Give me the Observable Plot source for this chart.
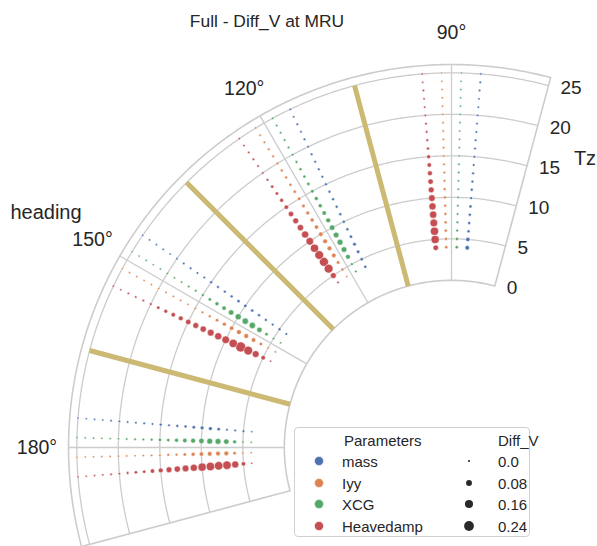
<!DOCTYPE html>
<html><head><meta charset="utf-8">
<script src="https://cdn.jsdelivr.net/npm/d3@7"></script>
<script src="https://cdn.jsdelivr.net/npm/@observablehq/plot@0.6"></script>
<style>
html,body{margin:0;padding:0;background:#fff;}
#wrap{position:relative;width:597px;height:546px;overflow:hidden;font-family:"Liberation Sans",Arial,sans-serif;color:#262626;}
.lbl{position:absolute;white-space:nowrap;transform:translate(-50%,-50%);line-height:1;}
#legend{position:absolute;left:294px;top:427px;width:236px;height:110px;border:1px solid #d0d0d0;border-radius:4px;background:rgba(255,255,255,0.85);box-sizing:border-box;font-size:15px;}
#legend .t{position:absolute;white-space:nowrap;transform:translateY(-50%);line-height:1;}
#legend svg{position:absolute;left:0;top:0;}
</style></head>
<body><div id="wrap"></div>
<script>
// ---------------- data ----------------
const tzValues = [4,5,6,7,8,9,10,11,12,13,14,15,16,17,18,19,20,21,22,23,24,25];
const headings = [90,120,150,180];
const parameters = ["mass","Iyy","XCG","Heavedamp"];
const paramColors = ["#4c72b0","#dd8452","#55a868","#c44e52"];
const regionBounds = [105,135,165];
const rTicks = [0,5,10,15,20,25];
const sizeTicks = [0,0.08,0.16,0.24];
const sizeTickLabels = ["0.0","0.08","0.16","0.24"];

// Diff_V per heading and parameter, for Tz = 4 .. 25
const mass90  = [0.04,0.035,0.012,0.012,0.012,0.012,0.01,0.01,0.008,0.007,0.006,0.005,0.005,0.004,0.004,0.003,0.003,0.003,0.002,0.002,0.002,0.002];
const iyy90   = [0.015,0.015,0.012,0.012,0.01,0.01,0.01,0.008,0.006,0.005,0.004,0.003,0.003,0.002,0.002,0.002,0.001,0.001,0.001,0,0,0];
const xcg90   = [0.015,0.015,0.008,0.005,0.004,0.003,0.003,0.002,0.002,0.002,0.002,0.001,0.001,0.001,0.001,0.001,0,0,0,0,0,0];
const heave90 = [0.065,0.16,0.16,0.14,0.125,0.12,0.105,0.078,0.062,0.05,0.038,0.027,0.012,0.006,0.005,0.004,0.003,0.003,0.002,0.002,0.001,0.001];

const mass120  = [0.012,0.015,0.02,0.02,0.015,0.012,0.012,0.01,0.01,0.009,0.008,0.008,0.007,0.006,0.006,0.005,0.005,0.004,0.003,0.003,0.002,0.002];
const iyy120   = [0,0.01,0.02,0.04,0.045,0.045,0.04,0.035,0.03,0.025,0.02,0.018,0.015,0.012,0.01,0.008,0.006,0.005,0.004,0.003,0.002,0.002];
const xcg120   = [0.005,0.01,0.05,0.07,0.075,0.07,0.062,0.05,0.038,0.03,0.027,0.02,0.017,0.012,0.01,0.008,0.006,0.005,0.004,0.003,0.002,0.002];
const heave120 = [0.003,0.076,0.19,0.2,0.19,0.158,0.139,0.122,0.09,0.076,0.062,0.038,0.027,0.017,0.017,0.008,0.004,0.004,0.003,0.002,0.002,0.001];

const mass150  = [0.005,0.01,0.005,0.01,0.01,0.015,0.017,0.015,0.01,0.008,0.008,0.01,0.004,0.004,0.003,0.003,0.002,0.001,0.001,0.001,0.001,0.001];
const iyy150   = [0,0.002,0.017,0.038,0.05,0.05,0.038,0.027,0.017,0.008,0.004,0.002,0.001,0.001,0.001,0.001,0,0,0,0,0,0];
const xcg150   = [0,0.003,0.017,0.062,0.09,0.09,0.085,0.062,0.038,0.027,0.017,0.01,0.005,0.003,0.002,0.001,0,0,0,0,0,0];
const heave150 = [0,0.04,0.11,0.19,0.25,0.17,0.14,0.122,0.106,0.09,0.076,0.062,0.05,0.038,0.027,0.017,0.008,0.004,0.003,0.002,0.001,0.001];

const mass180  = [0,0.005,0.003,0.005,0.017,0.025,0.025,0.017,0.01,0.01,0.005,0.01,0.003,0.003,0.003,0.002,0.002,0.002,0.001,0,0,0];
const iyy180   = [0,0.002,0.017,0.045,0.045,0.045,0.038,0.027,0.017,0.008,0.008,0.004,0.003,0.001,0.001,0.001,0.001,0,0,0,0,0];
const xcg180   = [0,0.002,0.027,0.062,0.076,0.076,0.062,0.05,0.038,0.027,0.017,0.017,0.008,0.005,0.004,0.002,0.001,0,0,0,0,0];
const heave180 = [0,0.038,0.122,0.177,0.177,0.177,0.158,0.122,0.106,0.09,0.076,0.05,0.038,0.017,0.017,0.008,0.003,0.002,0.001,0.001,0,0];

const seriesByHeading = {
  90:  [mass90, iyy90, xcg90, heave90],
  120: [mass120, iyy120, xcg120, heave120],
  150: [mass150, iyy150, xcg150, heave150],
  180: [mass180, iyy180, xcg180, heave180]
};

// ---------------- layout ----------------
const W = 597, H = 546;
const CX = 451, CY = 447;          // pole position in pixels
const PX_PER_UNIT = 8.3;           // pixels per Tz unit
const HOLE = 20.14;                // radial origin offset (Tz units)
const THETA_MIN = 75, THETA_MAX = 195, R_MAX = 26;
const dodge = {mass: -4.5, Iyy: 1.5, XCG: -1.5, Heavedamp: 4.5};
const SIZE_FLOOR = 0.0125;
const R_DOMAIN = [0, 0.24 + SIZE_FLOOR], R_RANGE = [0, 4.9];

const rows = [];
for (const h of headings) {
  parameters.forEach((p, k) => {
    seriesByHeading[h][k].forEach((v, i) => rows.push({heading: h, param: p, tz: tzValues[i], diff: v}));
  });
}

const toX = (t, r) => (HOLE + r) * Math.cos(t * Math.PI / 180);
const toY = (t, r) => (HOLE + r) * Math.sin(t * Math.PI / 180);

const arcT = d3.range(THETA_MIN, THETA_MAX + 0.001, 0.5);
const gridArcs = rTicks.filter(r => r > 0).flatMap(r => arcT.map(t => ({r, t})));
const spineArcs = [0, R_MAX].flatMap(r => arcT.map(t => ({r, t})));

const chart = Plot.plot({
  width: W, height: H, margin: 0,
  x: {domain: [-CX / PX_PER_UNIT, (W - CX) / PX_PER_UNIT], axis: null},
  y: {domain: [-(H - CY) / PX_PER_UNIT, CY / PX_PER_UNIT], axis: null},
  r: {type: "sqrt", domain: R_DOMAIN, range: R_RANGE},
  color: {domain: parameters, range: paramColors},
  style: {fontFamily: "Liberation Sans, Arial, sans-serif", background: "transparent", color: "#262626"},
  marks: [
    Plot.line(gridArcs, {x: d => toX(d.t, d.r), y: d => toY(d.t, d.r), z: "r", stroke: "#cccccc", strokeWidth: 1.3}),
    Plot.link(headings, {x1: t => toX(t, 0), y1: t => toY(t, 0), x2: t => toX(t, R_MAX), y2: t => toY(t, R_MAX), stroke: "#cccccc", strokeWidth: 1.3}),
    Plot.line(spineArcs, {x: d => toX(d.t, d.r), y: d => toY(d.t, d.r), z: "r", stroke: "#cccccc", strokeWidth: 1.6}),
    Plot.link([THETA_MIN, THETA_MAX], {x1: t => toX(t, 0), y1: t => toY(t, 0), x2: t => toX(t, R_MAX), y2: t => toY(t, R_MAX), stroke: "#cccccc", strokeWidth: 1.6}),
    Plot.link(regionBounds, {x1: t => toX(t, 0), y1: t => toY(t, 0), x2: t => toX(t, 25), y2: t => toY(t, 25), stroke: "#ccb974", strokeWidth: 5}),
    Plot.dot(rows, {x: d => toX(d.heading + dodge[d.param], d.tz), y: d => toY(d.heading + dodge[d.param], d.tz),
      r: d => d.diff + SIZE_FLOOR, fill: "param", stroke: "white", strokeWidth: 0.5}),
    Plot.text(rTicks, {x: r => toX(THETA_MIN, r), y: r => toY(THETA_MIN, r), text: r => String(r),
      textAnchor: "start", dx: 12, dy: 2, fontSize: 19, fill: "#262626"}),
    Plot.text(headings, {x: t => toX(t, 29.8), y: t => toY(t, 29.8), text: t => t + "°", fontSize: 19.5, fill: "#262626"})
  ]
});

const wrap = document.getElementById("wrap");
chart.style.position = "absolute";
chart.style.left = "0px";
chart.style.top = "0px";
wrap.appendChild(chart);

function addLabel(text, x, y, size) {
  const d = document.createElement("div");
  d.className = "lbl";
  d.textContent = text;
  d.style.left = x + "px";
  d.style.top = y + "px";
  d.style.fontSize = size + "px";
  wrap.appendChild(d);
}
addLabel("Full - Diff_V at MRU", 267, 22, 17.4);
addLabel("heading", 46, 212, 20);
addLabel("Tz", 585, 158, 20);

// ---------------- legend ----------------
let rFn;
try { const sc = chart.scale("r"); rFn = sc && sc.apply ? (v => sc.apply(v)) : null; } catch (e) { rFn = null; }
if (!rFn) { const s = d3.scaleSqrt(R_DOMAIN, R_RANGE); rFn = v => s(v); }

const legend = document.createElement("div");
legend.id = "legend";
const LX = 294, LY = 427;
const rowsY = [460, 482, 503, 525];
const ns = "http://www.w3.org/2000/svg";
const svg = document.createElementNS(ns, "svg");
svg.setAttribute("width", 236); svg.setAttribute("height", 110);
function addT(text, x, y) {
  const d = document.createElement("div");
  d.className = "t"; d.textContent = text;
  d.style.left = (x - LX) + "px"; d.style.top = (y - LY) + "px";
  legend.appendChild(d);
}
addT("Parameters", 343, 439);
addT("Diff_V", 497, 439);
parameters.forEach((p, i) => {
  const c = document.createElementNS(ns, "circle");
  c.setAttribute("cx", 318 - LX); c.setAttribute("cy", rowsY[i] - LY); c.setAttribute("r", 4.5);
  c.setAttribute("fill", paramColors[i]); c.setAttribute("stroke", "white"); c.setAttribute("stroke-width", 0.5);
  svg.appendChild(c);
  addT(p, 341, rowsY[i]);
});
sizeTicks.forEach((v, i) => {
  const c = document.createElementNS(ns, "circle");
  c.setAttribute("cx", 468 - LX); c.setAttribute("cy", rowsY[i] - LY); c.setAttribute("r", rFn(v + SIZE_FLOOR));
  c.setAttribute("fill", "#2a2a2a");
  svg.appendChild(c);
  addT(sizeTickLabels[i], 497, rowsY[i]);
});
legend.insertBefore(svg, legend.firstChild);
wrap.appendChild(legend);
</script></body></html>
